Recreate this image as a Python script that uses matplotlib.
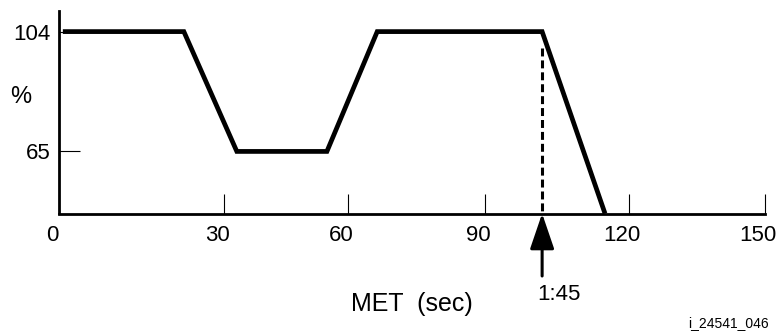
import numpy as np
import matplotlib
matplotlib.use("Agg")
import matplotlib.pyplot as plt
import matplotlib.transforms as mtransforms

plt.rcParams['font.family'] = ['Liberation Sans', 'DejaVu Sans']

# tick values (sec) and where the artist put them along the axis (uneven spacing)
tick_secs = [0, 30, 60, 90, 120, 150]
tick_pos = [0, 165, 289, 426, 570, 706]

# throttle profile
met = [0.7, 22.7, 33.1, 54.9, 66.4, 101.9, 115.0]
throttle = [104, 104, 65, 65, 104, 104, 44.8]

# 1:45 marker
mark_sec = 101.9
mark_top = 98.5
mark_label = '1:45'

y_ticks = [65, 104]


def fwd(x):
    return np.interp(x, tick_secs, tick_pos)


def inv(x):
    return np.interp(x, tick_pos, tick_secs)


fig = plt.figure(figsize=(7.78, 3.31), dpi=100)
ax = fig.add_axes([59 / 778, 117.5 / 331, 706 / 778, 202.8 / 331])
ax.set_xscale('function', functions=(fwd, inv))
ax.set_xlim(0, 150)
ax.set_ylim(44.8, 110.8)

ax.plot(met, throttle, color='black', lw=3.4, solid_joinstyle='miter',
        solid_capstyle='butt', clip_on=False)

# dashed drop line at 1:45
ax.plot([mark_sec, mark_sec], [mark_top, 44.8], color='black', lw=2.2,
        dashes=(2.6, 1.3))

# arrow pointing up at the axis
ax.annotate('', xy=(mark_sec, 44.8), xycoords='data',
            xytext=(0, -45), textcoords='offset points',
            arrowprops=dict(arrowstyle='-|>,head_length=2.2,head_width=0.75',
                            mutation_scale=10, lw=2.2, color='black',
                            shrinkA=0, shrinkB=0),
            annotation_clip=False)
ax.annotate(mark_label, xy=(mark_sec, 44.8), xycoords='data',
            xytext=(12, -58), textcoords='offset points',
            ha='center', va='center', fontsize=16, annotation_clip=False)

for s in ['top', 'right']:
    ax.spines[s].set_visible(False)
for s in ['left', 'bottom']:
    ax.spines[s].set_linewidth(2.0)

ax.set_xticks(tick_secs)
ax.set_xticklabels([str(t) for t in tick_secs])
ax.set_yticks(y_ticks)
ax.set_yticklabels([str(t) for t in y_ticks])
ax.tick_params(axis='x', direction='in', length=14.5, width=0.8,
               labelsize=16, pad=8.5)
ax.tick_params(axis='y', direction='in', length=15, width=0.8,
               labelsize=16, pad=6)
ax.xaxis.set_minor_locator(matplotlib.ticker.NullLocator())

# labels sit a little left of their ticks in the original
offset = mtransforms.ScaledTranslation(-7 / 100, 0, fig.dpi_scale_trans)
for lab in ax.get_xticklabels():
    lab.set_transform(lab.get_transform() + offset)

ax.set_ylabel('%', rotation=0, fontsize=17)
ax.yaxis.set_label_coords(-0.054, (82.8 - 44.8) / 66.0)
ax.yaxis.label.set_va('center')
ax.yaxis.label.set_ha('center')

ax.set_xlabel('MET  (sec)', fontsize=18)
ax.xaxis.set_label_coords(0.5, -0.445)
ax.xaxis.label.set_va('center')

fig.text(769 / 778, 1 - 327 / 331, 'i_24541_046', ha='right', va='baseline',
         fontsize=10)

fig.savefig('out.png', dpi=100)
